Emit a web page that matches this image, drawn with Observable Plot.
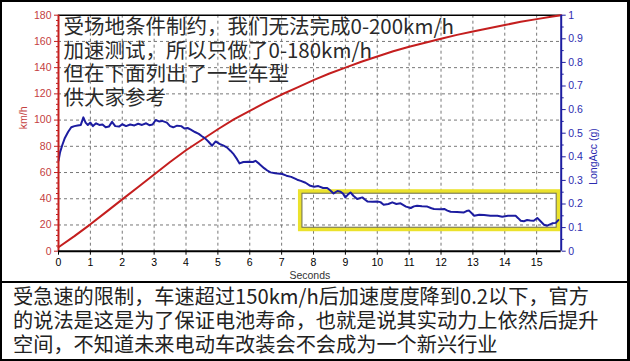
<!DOCTYPE html>
<html>
<head>
<meta charset="utf-8">
<script src="https://cdn.jsdelivr.net/npm/d3@7"></script>
<script src="https://cdn.jsdelivr.net/npm/@observablehq/plot@0.6"></script>
<style>
  html, body { margin: 0; padding: 0; background: #fff; }
  #frame { width: 630px; height: 361px; box-sizing: border-box; border-style: solid; border-color: #000; border-width: 2px 3px 2px 2px; background: #fff; overflow: hidden; }
  #chart { height: 279px; overflow: hidden; }
  #chart svg { display: block; }
  #caption { border-top: 2px solid #000; height: 76px; box-sizing: border-box; padding: 1px 0 0 11px; font-family: "Noto Sans CJK SC", sans-serif; font-size: 20.2px; line-height: 24px; color: #222; white-space: nowrap; }
</style>
</head>
<body>
<div id="frame">
  <div id="chart"></div>
  <div id="caption"></div>
</div>
<script>
// ---- data ----
const speedTime = [0, 0.5, 1, 1.5, 2, 2.5, 3, 3.5, 4, 4.5, 5, 5.5, 6, 6.5, 7, 7.5, 8, 8.5, 9, 9.5, 10, 10.5, 11, 11.5, 12, 12.5, 13, 13.5, 14, 14.5, 15, 15.5, 15.77];
const speedKmh  = [3, 11.5, 20.5, 30, 39.5, 49, 58.5, 68, 77, 85, 93, 100.5, 107, 113.5, 119.5, 125, 130.5, 135.5, 140, 144.5, 148.5, 152.5, 156, 159, 162, 165, 167.5, 170, 172.5, 175, 177, 179, 180];

const accTime = [0, 0.05, 0.12, 0.2, 0.3, 0.4, 0.5, 0.6, 0.7, 0.78, 0.85, 0.92, 1.0, 1.08, 1.18, 1.28, 1.38, 1.48, 1.58, 1.68, 1.78, 1.9, 2.0, 2.12, 2.25, 2.38, 2.5, 2.62, 2.75, 2.85, 2.95, 3.05, 3.15, 3.25, 3.4, 3.5, 3.6, 3.72, 3.85, 3.95, 4.05, 4.15, 4.28, 4.4, 4.5, 4.6, 4.7, 4.82, 4.93, 5.05, 5.18, 5.28, 5.4, 5.5, 5.6, 5.68, 5.8, 5.97, 6.1, 6.18, 6.3, 6.45, 6.55, 6.65, 6.8, 7.02, 7.15, 7.3, 7.49, 7.6, 7.75, 7.9, 8.02, 8.15, 8.3, 8.43, 8.52, 8.63, 8.75, 8.85, 8.93, 9.0, 9.08, 9.16, 9.25, 9.37, 9.53, 9.62, 9.69, 9.85, 10.0, 10.1, 10.2, 10.35, 10.47, 10.6, 10.73, 10.9, 11.05, 11.15, 11.25, 11.4, 11.57, 11.7, 11.78, 12.0, 12.1, 12.2, 12.3, 12.5, 12.72, 12.8, 12.88, 13.04, 13.2, 13.35, 13.55, 13.77, 13.92, 14.1, 14.34, 14.42, 14.5, 14.6, 14.7, 14.8, 14.91, 15.02, 15.1, 15.23, 15.33, 15.42, 15.49, 15.6, 15.68];
const accG    = [0.383, 0.42, 0.45, 0.48, 0.505, 0.525, 0.53, 0.533, 0.535, 0.567, 0.545, 0.535, 0.545, 0.53, 0.542, 0.535, 0.537, 0.525, 0.528, 0.548, 0.53, 0.528, 0.538, 0.53, 0.537, 0.533, 0.54, 0.535, 0.542, 0.534, 0.537, 0.556, 0.55, 0.552, 0.545, 0.53, 0.525, 0.532, 0.53, 0.52, 0.522, 0.515, 0.505, 0.497, 0.487, 0.478, 0.465, 0.447, 0.465, 0.455, 0.447, 0.44, 0.425, 0.41, 0.39, 0.372, 0.378, 0.379, 0.378, 0.383, 0.37, 0.352, 0.342, 0.334, 0.33, 0.327, 0.32, 0.315, 0.303, 0.298, 0.29, 0.277, 0.273, 0.276, 0.268, 0.268, 0.258, 0.245, 0.255, 0.252, 0.243, 0.228, 0.24, 0.249, 0.235, 0.221, 0.228, 0.218, 0.211, 0.21, 0.211, 0.208, 0.197, 0.2, 0.207, 0.2, 0.203, 0.189, 0.183, 0.19, 0.193, 0.19, 0.189, 0.182, 0.179, 0.178, 0.179, 0.172, 0.167, 0.166, 0.164, 0.17, 0.172, 0.15, 0.154, 0.153, 0.15, 0.15, 0.146, 0.15, 0.15, 0.14, 0.129, 0.127, 0.132, 0.13, 0.129, 0.141, 0.13, 0.112, 0.108, 0.114, 0.118, 0.12, 0.132];

const xTicks = [0, 1, 2, 3, 4, 5, 6, 7, 8, 9, 10, 11, 12, 13, 14, 15];
const speedTicks = [0, 20, 40, 60, 80, 100, 120, 140, 160, 180];
const accTicks = [0, 0.1, 0.2, 0.3, 0.4, 0.5, 0.6, 0.7, 0.8, 0.9, 1];
const xMax = 15.77;
const speedMax = 180;   // right axis 0..1 g spans the same height as 0..180 km/h

// highlighted region (seconds, g)
const highlight = [{t1: 7.59, t2: 15.69, g1: 0.091, g2: 0.252}];

const noteLines = ["受场地条件制约，我们无法完成0-200km/h", "加速测试，所以只做了0-180km/h", "但在下面列出了一些车型", "供大家参考"];
const captionLines = ["受急速的限制，车速超过150km/h后加速度度降到0.2以下，官方", "的说法是这是为了保证电池寿命，也就是说其实动力上依然后提升", "空间，不知道未来电动车改装会不会成为一个新兴行业"];
const xLabel = "Seconds";
const yLeftLabel = "km/h";
const yRightLabel = "LongAcc (g)";

// ---- build ----
const speed = speedTime.map((t, i) => ({t, v: speedKmh[i]}));
const acc = accTime.map((t, i) => ({t, g: accG[i]}));
const minorSpeed = d3.range(0, 181, 4).filter(v => v % 20 !== 0);
const minorAcc = d3.range(0, 101, 5).filter(v => v % 10 !== 0).map(v => v / 100 * speedMax);

const RED = "#c41e1e", RED_TXT = "#c44040", BLUE = "#1c1ca0", BLUE_TXT = "#2c2cb0";
const tickFont = "Liberation Sans, Arial, sans-serif";

const chart = Plot.plot({
  width: 625,
  height: 279,
  marginTop: 12.7,
  marginBottom: 30.3,
  marginLeft: 56,
  marginRight: 66.3,
  x: {domain: [0, xMax]},
  y: {domain: [0, speedMax]},
  style: {fontFamily: tickFont, fontSize: "10.5px", background: "#fff", overflow: "visible"},
  marks: [
    Plot.gridX(xTicks.slice(1), {stroke: "#777", strokeOpacity: 1, strokeDasharray: "3,3"}),
    Plot.gridY(speedTicks.slice(1, -1), {stroke: "#777", strokeOpacity: 1, strokeDasharray: "3,3"}),
    Plot.ruleY([speedMax], {stroke: "#000", strokeWidth: 1.5}),
    Plot.rect(highlight, {x1: "t1", x2: "t2", y1: d => d.g1 * speedMax, y2: d => d.g2 * speedMax, fill: "none", stroke: "#ebe22c", strokeWidth: 4}),
    Plot.rect(highlight, {x1: "t1", x2: "t2", y1: d => d.g1 * speedMax, y2: d => d.g2 * speedMax, fill: "none", stroke: "#6b6b50", strokeWidth: 1, inset: 2}),
    Plot.line(speed, {x: "t", y: "v", stroke: RED, strokeWidth: 2}),
    Plot.line(acc, {x: "t", y: d => d.g * speedMax, stroke: BLUE, strokeWidth: 2}),
    Plot.text([noteLines.join("\n")], {frameAnchor: "top-left", textAnchor: "start", lineAnchor: "top", dx: 5, dy: 2, lineHeight: 1.156, fontSize: 20.5, fontFamily: "Noto Sans CJK SC", fill: "#2a2a2a"}),
    // axes
    Plot.axisX(xTicks, {anchor: "bottom", tickSize: 4, tickPadding: 3, color: "#000", label: null, fontSize: 10.5}),
    Plot.axisY(speedTicks, {anchor: "left", tickSize: 4, tickPadding: 3, color: RED_TXT, stroke: RED, label: null, fontSize: 10.5}),
    Plot.axisY(minorSpeed, {anchor: "left", tickSize: 2, tickFormat: () => "", stroke: RED, label: null}),
    Plot.axisY(accTicks.map(g => g * speedMax), {anchor: "right", tickSize: 4, tickPadding: 3, color: BLUE_TXT, stroke: BLUE, label: null, fontSize: 10.5, tickFormat: d => String(Math.round(d / speedMax * 10) / 10)}),
    Plot.axisY(minorAcc, {anchor: "right", tickSize: 2, tickFormat: () => "", stroke: BLUE, label: null}),
    Plot.ruleX([0], {stroke: RED, strokeWidth: 2}),
    Plot.ruleX([xMax], {stroke: BLUE, strokeWidth: 2}),
    Plot.ruleY([0], {stroke: "#000", strokeWidth: 2}),
    // axis titles
    Plot.text([xLabel], {frameAnchor: "bottom", dy: 24, lineAnchor: "middle", fontSize: 10.5, fill: "#333"}),
    Plot.text([yLeftLabel], {frameAnchor: "left", rotate: -90, dx: -35, dy: -4, lineAnchor: "middle", fontSize: 10.5, fill: RED_TXT}),
    Plot.text([yRightLabel], {frameAnchor: "right", rotate: -90, dx: 32, dy: -5, lineAnchor: "middle", fontSize: 10.5, fill: BLUE_TXT})
  ]
});
document.getElementById("chart").appendChild(chart);

const cap = document.getElementById("caption");
captionLines.forEach(line => {
  const div = document.createElement("div");
  div.textContent = line;
  cap.appendChild(div);
});
</script>
</body>
</html>
